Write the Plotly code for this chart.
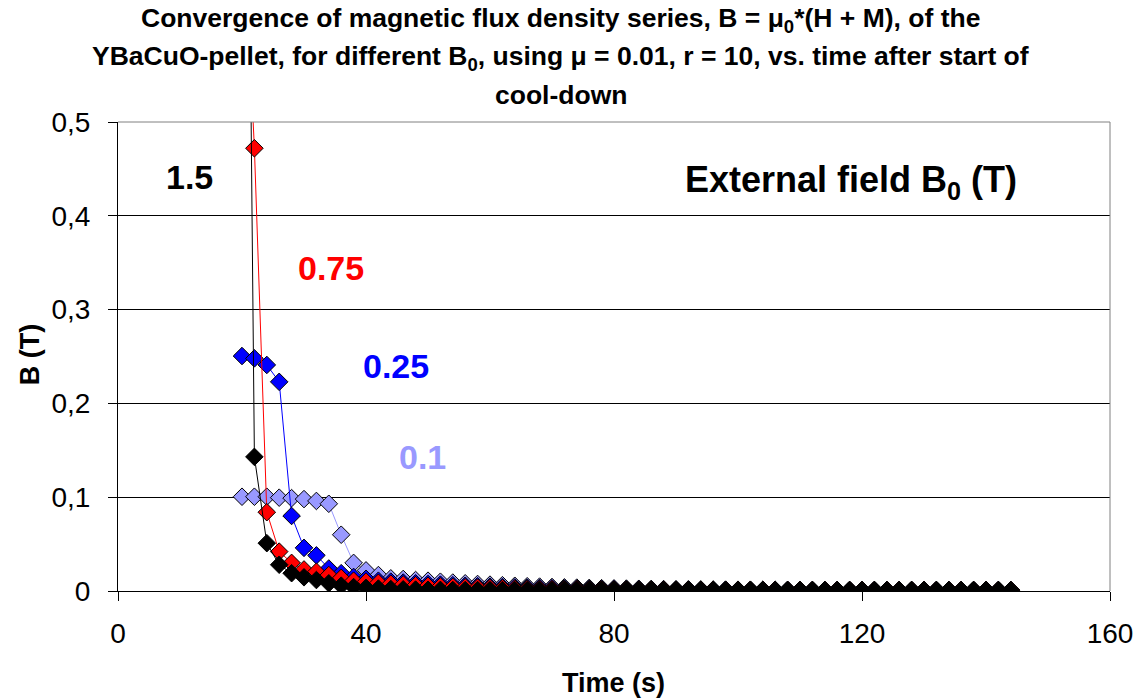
import plotly.graph_objects as go

# ---------------- data ----------------
time_s = [20, 22, 24, 26, 28, 30, 32, 34, 36, 38, 40, 42, 44, 46, 48, 50, 52, 54, 56, 58,
          60, 62, 64, 66, 68, 70, 72, 74, 76, 78, 80, 82, 84, 86, 88, 90, 92, 94, 96, 98,
          100, 102, 104, 106, 108, 110, 112, 114, 116, 118, 120, 122, 124, 126, 128, 130,
          132, 134, 136, 138, 140, 142, 144]

b_010 = [0.1005, 0.1005, 0.1005, 0.0995, 0.099, 0.098, 0.096, 0.093, 0.060, 0.030,
         0.022, 0.017, 0.0135, 0.0128, 0.0117, 0.011, 0.0099, 0.009, 0.0082, 0.0075,
         0.0068, 0.0062, 0.0056, 0.0051, 0.0047, 0.0043, 0.0039, 0.0036, 0.0033, 0.003,
         0.0028, 0.0026, 0.0024, 0.0022, 0.002, 0.0019, 0.0018, 0.0017, 0.0016, 0.0015,
         0.0014, 0.0014, 0.0013, 0.0013, 0.0012, 0.0012, 0.0011, 0.0011, 0.0011, 0.001,
         0.001, 0.001, 0.001, 0.001, 0.001, 0.001, 0.001, 0.001, 0.001, 0.001,
         0.001, 0.001, 0.001]

b_025 = [0.2505, 0.248, 0.241, 0.223, 0.080, 0.046, 0.038, 0.024, 0.019, 0.015,
         0.013, 0.011, 0.010, 0.009, 0.0082, 0.0075, 0.0068, 0.0062, 0.0056, 0.0051,
         0.0046, 0.0042, 0.0038, 0.0035, 0.0032, 0.0029, 0.0027, 0.0025, 0.0023, 0.0021,
         0.002, 0.0019, 0.0018, 0.0017, 0.0016, 0.0015, 0.0014, 0.0013, 0.0013, 0.0012,
         0.0012, 0.0011, 0.0011, 0.0011, 0.001, 0.001, 0.001, 0.001, 0.001, 0.001,
         0.001, 0.001, 0.001, 0.001, 0.001, 0.001, 0.001, 0.001, 0.001, 0.001,
         0.001, 0.001, 0.001]

b_075 = [0.75, 0.472, 0.084, 0.042, 0.030, 0.023, 0.0206, 0.017, 0.014, 0.011,
         0.010, 0.0088, 0.0078, 0.007, 0.0062, 0.0055, 0.0049, 0.0044, 0.004, 0.0036,
         0.0032, 0.0029, 0.0026, 0.0024, 0.0022, 0.002, 0.0019, 0.0018, 0.0017, 0.0016,
         0.0015, 0.0014, 0.0013, 0.0013, 0.0012, 0.0012, 0.0011, 0.0011, 0.001, 0.001,
         0.001, 0.001, 0.001, 0.001, 0.001, 0.001, 0.001, 0.001, 0.001, 0.001,
         0.001, 0.001, 0.001, 0.001, 0.001, 0.001, 0.001, 0.001, 0.001, 0.001,
         0.001, 0.001, 0.001]

b_150 = [1.5, 0.143, 0.051, 0.028, 0.019, 0.0146, 0.0117, 0.0082, 0.0057, 0.0042,
         0.0033, 0.0026, 0.0021, 0.0018, 0.0015, 0.0013, 0.0012, 0.0011, 0.001, 0.001,
         0.001, 0.001, 0.001, 0.001, 0.001, 0.001, 0.001, 0.001, 0.001, 0.001,
         0.001, 0.001, 0.001, 0.001, 0.001, 0.001, 0.001, 0.001, 0.001, 0.001,
         0.001, 0.001, 0.001, 0.001, 0.001, 0.001, 0.001, 0.001, 0.001, 0.001,
         0.001, 0.001, 0.001, 0.001, 0.001, 0.001, 0.001, 0.001, 0.001, 0.001,
         0.001, 0.001, 0.001]

series_names = ["0.1", "0.25", "0.75", "1.5"]
series_values = [b_010, b_025, b_075, b_150]
series_colors = ["#9999FF", "#0000FF", "#FF0000", "#000000"]

y_tickvals = [0, 0.1, 0.2, 0.3, 0.4, 0.5]
y_ticktext = ["0", "0,1", "0,2", "0,3", "0,4", "0,5"]
x_tickvals = [0, 40, 80, 120, 160]

title_lines = [
    "Convergence of magnetic flux density series, B = μ<sub>0</sub>*(H + M), of the",
    "YBaCuO-pellet, for different B<sub>0</sub>, using μ = 0.01, r = 10, vs. time after start of",
    "cool-down",
]

# ---------------- layout geometry ----------------
W, H = 1145, 700
L, R, T, B = 118, 32, 122, 109
PW, PH = W - L - R, H - T - B


def px(x):
    return (x - L) / PW


def py(y):
    return (H - B - y) / PH


fig = go.Figure()
for name, vals, col in zip(series_names, series_values, series_colors):
    fig.add_trace(go.Scatter(
        x=time_s, y=vals, name=name, mode="lines+markers",
        line=dict(color=col, width=1),
        marker=dict(symbol="diamond", size=13.5, color=col,
                    line=dict(color="#000000", width=1)),
        cliponaxis=True, showlegend=False,
    ))

AX_FONT = "Arial, Liberation Sans, sans-serif"

fig.update_layout(
    width=W, height=H,
    margin=dict(l=L, r=R, t=T, b=B),
    paper_bgcolor="white", plot_bgcolor="white",
    font=dict(family=AX_FONT, color="black"),
    xaxis=dict(range=[0, 160], tickvals=x_tickvals, showgrid=False, zeroline=False,
               showline=True, linecolor="black", linewidth=1,
               ticks="outside", ticklen=9, tickcolor="black", ticklabelstandoff=8,
               tickfont=dict(size=28, family=AX_FONT, color="black")),
    yaxis=dict(range=[0, 0.5], tickvals=y_tickvals, ticktext=y_ticktext,
               showgrid=True, gridcolor="black", gridwidth=1, zeroline=False,
               showline=True, linecolor="black", linewidth=1,
               ticks="outside", ticklen=9, tickcolor="black", ticklabelstandoff=12,
               tickfont=dict(size=28, family=AX_FONT, color="black")),
)

# grey top/right frame
fig.add_shape(type="line", xref="paper", yref="paper", x0=0, x1=1, y0=1, y1=1,
              line=dict(color="#808080", width=1), layer="above")
fig.add_shape(type="line", xref="paper", yref="paper", x0=1, x1=1, y0=0, y1=1,
              line=dict(color="#808080", width=1), layer="above")

TITLE_FONT = "Liberation Sans Narrow, Arial Narrow, Arial, sans-serif"
for txt, yc in zip(title_lines, [20, 58, 95]):
    fig.add_annotation(text="<b>" + txt + "</b>", xref="paper", yref="paper",
                       x=px(562), y=py(yc), xanchor="center", yanchor="middle",
                       showarrow=False, font=dict(size=26.5, family=TITLE_FONT, color="black"))

fig.add_annotation(text="<b>Time (s)</b>", xref="paper", yref="paper",
                   x=px(615), y=py(683), xanchor="center", yanchor="middle",
                   showarrow=False, font=dict(size=27, family=AX_FONT, color="black"))
fig.add_annotation(text="<b>B (T)</b>", xref="paper", yref="paper",
                   x=px(30), y=py(355), xanchor="center", yanchor="middle", textangle=-90,
                   showarrow=False, font=dict(size=27, family=AX_FONT, color="black"))

labels = [("1.5", "#000000", 190, 177, 34), ("0.75", "#FF0000", 332, 268, 34),
          ("0.25", "#0000FF", 397, 366, 34), ("0.1", "#9999FF", 423, 457, 34),
          ("External field B<sub>0</sub> (T)", "#000000", 853, 182, 36)]
for txt, col, xx, yy, fs in labels:
    fig.add_annotation(text="<b>" + txt + "</b>", xref="paper", yref="paper",
                       x=px(xx), y=py(yy), xanchor="center", yanchor="middle",
                       showarrow=False, font=dict(size=fs, family=AX_FONT, color=col))

fig.write_html("out.html")
